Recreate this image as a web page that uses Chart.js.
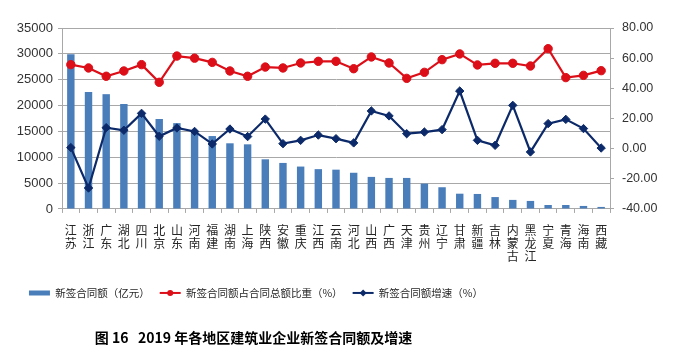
<!DOCTYPE html>
<html><head><meta charset="utf-8">
<script src="https://cdn.jsdelivr.net/npm/chart.js@4/dist/chart.umd.min.js"></script>
<style>html,body{margin:0;padding:0;background:#fff;}canvas{display:block;}</style>
</head><body>
<canvas id="c" width="685" height="363"></canvas>
<script>
// ---- data ----
const categories = ['江苏','浙江','广东','湖北','四川','北京','山东','河南','福建','湖南','上海','陕西','安徽','重庆','江西','云南','河北','山西','广西','天津','贵州','辽宁','甘肃','新疆','吉林','内蒙古','黑龙江','宁夏','青海','海南','西藏'];
const contractValue = [29900,22600,22200,20300,18600,17400,16600,15000,14100,12700,12500,9600,8900,8200,7700,7600,7000,6200,6000,6000,4900,4200,2950,2900,2300,1750,1550,770,770,580,390];
const shareOfTotal = [55.7,53.5,48.0,51.5,55.7,44.0,61.4,60.0,57.2,51.5,48.0,54.1,53.5,56.8,57.9,57.9,53.0,60.8,56.8,46.6,50.6,59.0,62.8,55.5,56.6,56.6,54.8,66.3,47.1,48.6,51.7];
const growthRate = [0.7,-26.1,13.9,12.2,23.4,8.2,13.7,11.4,3.1,13.0,8.0,19.6,3.3,5.5,9.0,6.6,3.8,25.0,21.7,9.9,11.0,12.6,38.2,5.5,2.2,28.7,-2.2,16.6,19.4,13.3,0.4];
const seriesNames = ['新签合同额（亿元）','新签合同额占合同总额比重（%）','新签合同额增速（%）'];
const titleText = '图 16   2019 年各地区建筑业企业新签合同额及增速';
const leftAxisRange = [0, 35000, 5000];
const rightAxisRange = [-40, 80, 20];

const BAR = '#4a7ebb', RED = '#dc0e18', NAVY = '#0c2a6a', GRID = '#a8a8a8';
const CJK = "'Noto Sans CJK SC', sans-serif";
const LAT = "'Liberation Sans', Arial, sans-serif";

const helper = {
  id: 'helper',
  afterLayout(chart) {
    const lg = chart.legend;
    if (lg && lg.lineWidths) {
      const pad = lg.options.labels.padding;
      const lw = lg.lineWidths[0];
      const start = 256 - (lw - pad) / 2;
      lg.left = 0;
      lg.right = 2 * start - pad + lw;
    }
    const tb = chart.titleBlock;
    if (tb) { tb.left = 0; tb.right = 507; }
  },
  afterDraw(chart) {
    const lg = chart.legend;
    if (!lg || !lg.legendHitBoxes) return;
    const ctx = chart.ctx;
    lg.legendItems.forEach((item, i) => {
      const hb = lg.legendHitBoxes[i];
      if (!hb || item.datasetIndex === 0) return;
      const color = item.datasetIndex === 1 ? RED : NAVY;
      const cy = hb.top + hb.height / 2;
      const x0 = hb.left, x1 = hb.left + 21;
      ctx.save();
      ctx.strokeStyle = color; ctx.lineWidth = 2;
      ctx.beginPath(); ctx.moveTo(x0, cy); ctx.lineTo(x1, cy); ctx.stroke();
      ctx.fillStyle = color;
      const cx = (x0 + x1) / 2;
      ctx.beginPath();
      if (item.datasetIndex === 1) { ctx.arc(cx, cy, 3, 0, Math.PI * 2); }
      else { ctx.moveTo(cx - 3.5, cy); ctx.lineTo(cx, cy - 3.5); ctx.lineTo(cx + 3.5, cy); ctx.lineTo(cx, cy + 3.5); ctx.closePath(); }
      ctx.fill();
      ctx.restore();
    });
  }
};

new Chart(document.getElementById('c'), {
  data: {
    labels: categories.map(s => s.split('')),
    datasets: [
      { type: 'bar', label: seriesNames[0], data: contractValue, yAxisID: 'y', backgroundColor: BAR, borderWidth: 0,
        categoryPercentage: 1, barPercentage: 0.42, order: 2 },
      { type: 'line', label: seriesNames[1], data: shareOfTotal, yAxisID: 'y1', borderColor: RED, backgroundColor: RED,
        borderWidth: 2.2, tension: 0, pointRadius: 4.2, pointStyle: 'circle', pointBorderWidth: 1, order: 0 },
      { type: 'line', label: seriesNames[2], data: growthRate, yAxisID: 'y1', borderColor: NAVY, backgroundColor: NAVY,
        borderWidth: 2.2, tension: 0, pointRadius: 4.2, pointStyle: 'rectRot', pointBorderWidth: 1, order: 1 }
    ]
  },
  options: {
    responsive: false,
    animation: false,
    layout: { padding: { top: 28, left: 0, right: 0, bottom: 0 } },
    scales: {
      x: {
        offset: true,
        grid: { display: true, drawOnChartArea: false, drawTicks: true, tickLength: 4, offset: true, color: GRID },
        border: { color: GRID },
        ticks: { autoSkip: false, maxRotation: 0, minRotation: 0, padding: 11.5, color: '#262626',
          font: { family: CJK, size: 12, lineHeight: 1.06 } },
        afterFit(s) { s.height = 68.75; }
      },
      y: {
        position: 'left',
        min: leftAxisRange[0], max: leftAxisRange[1],
        ticks: { stepSize: leftAxisRange[2], padding: 5, color: '#333', font: { family: LAT, size: 13 },
          callback: v => String(v) },
        grid: { color: GRID, tickLength: 4, drawTicks: true },
        border: { color: GRID },
        afterFit(s) { s.width = 62; }
      },
      y1: {
        position: 'right',
        min: rightAxisRange[0], max: rightAxisRange[1],
        ticks: { stepSize: rightAxisRange[2], padding: 8, color: '#333', font: { family: LAT, size: 12.5 },
          callback: v => Number(v).toFixed(2) },
        grid: { drawOnChartArea: false, color: GRID, tickLength: 4, drawTicks: true },
        border: { color: GRID },
        afterFit(s) { s.width = 75; }
      }
    },
    plugins: {
      tooltip: { enabled: false },
      legend: {
        position: 'bottom',
        labels: {
          boxWidth: 21, boxHeight: 5, padding: 10, color: '#262626',
          font: { family: CJK, size: 10.5 },
          sort: (a, b) => a.datasetIndex - b.datasetIndex,
          generateLabels(chart) {
            const items = Chart.defaults.plugins.legend.labels.generateLabels(chart);
            items.forEach(it => {
              if (it.datasetIndex === 0) { it.fillStyle = BAR; it.strokeStyle = BAR; it.lineWidth = 0; }
              else { it.fillStyle = 'rgba(0,0,0,0)'; it.strokeStyle = 'rgba(0,0,0,0)'; it.lineWidth = 0; }
            });
            return items;
          }
        }
      },
      title: {
        display: true, position: 'bottom', text: titleText, color: '#000',
        font: { family: CJK, size: 14, weight: 'bold', lineHeight: 1.2 },
        padding: { top: 21, bottom: 17 }
      }
    }
  },
  plugins: [helper]
});
</script>
</body></html>
